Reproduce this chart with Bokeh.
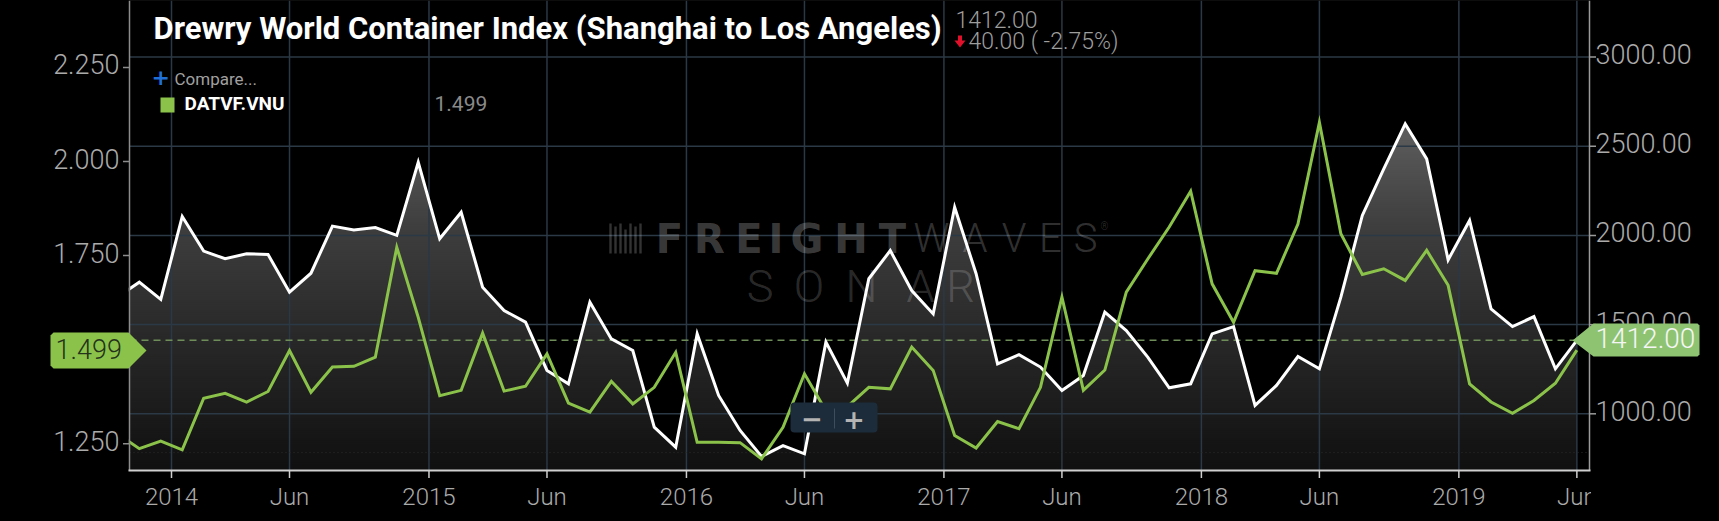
import numpy as np
import pandas as pd
from bokeh.plotting import figure
from bokeh.models import Range1d, Label, BoxAnnotation, GlobalInlineStyleSheet
from bokeh.core.properties import value
from bokeh.embed import file_html
from bokeh.resources import INLINE

# ---------------- data ----------------
months = [str(p) for p in pd.period_range("2013-10", "2019-06", freq="M")]
# Drewry WCI Shanghai -> Los Angeles (right axis, USD/FEU)
wci_sha_la = [1656, 1738, 1641,
              2106, 1912, 1869, 1897, 1893, 1682, 1788, 2052, 2031, 2044, 2000, 2410,
              1981, 2130, 1710, 1579, 1514, 1243, 1168, 1626, 1420, 1355, 925, 813,
              1448, 1103, 907, 761, 822, 776, 1402, 1172, 1757, 1915, 1691, 1560,
              2158, 1785, 1280, 1332, 1262, 1131, 1215, 1570, 1467, 1318, 1146, 1168,
              1448, 1489, 1047, 1159, 1321, 1252, 1654, 2112, 2373, 2625, 2429, 1863,
              2084, 1588, 1489, 1545, 1252, 1412]
# DATVF.VNU (left axis, USD/mile)
datvf_vnu = [1.276, 1.237, 1.257,
             1.234, 1.371, 1.384, 1.361, 1.389, 1.498, 1.387, 1.454, 1.456, 1.480, 1.772, 1.586,
             1.378, 1.392, 1.544, 1.390, 1.403, 1.489, 1.358, 1.334, 1.416, 1.356, 1.400, 1.493,
             1.254, 1.254, 1.253, 1.210, 1.294, 1.436, 1.338, 1.349, 1.400, 1.396, 1.507, 1.445,
             1.272, 1.239, 1.309, 1.290, 1.400, 1.640, 1.392, 1.446, 1.653, 1.741, 1.826, 1.921,
             1.675, 1.573, 1.710, 1.703, 1.834, 2.104, 1.808, 1.700, 1.715, 1.684, 1.764, 1.671,
             1.409, 1.361, 1.331, 1.365, 1.411, 1.499]
tick_positions = [-0.5, 5.0, 11.5, 17.0, 23.5, 29.0, 35.5, 41.0, 47.5, 53.0, 59.5, 65.0]
tick_labels = ["2014", "Jun", "2015", "Jun", "2016", "Jun", "2017", "Jun", "2018", "Jun", "2019", "Jun"]
left_ticks = [1.25, 1.5, 1.75, 2.0, 2.25]
right_ticks = [1000, 1500, 2000, 2500, 3000]
title_text = "Drewry World Container Index (Shanghai to Los Angeles)"
change_text = "40.00 ( -2.75%)"
legend_name = "DATVF.VNU"

x = [i - months.index("2014-01") for i in range(len(months))]  # month index, Jan 2014 = 0

# ---------------- geometry (canvas pixels) ----------------
W, H = 1719, 521
FL, FR, FT, FB = 129, 1589, 0, 470      # plot area inside the canvas
PXM, PX0 = 21.456, 181.73               # px per month, px of month 0


def mx(px):
    return (px - PX0) / PXM


def ly(py):
    return 2.0 - (py - 161.0) / 376.4


def ry(py):
    return 2500.0 - (py - 145.7) * 5.605


GREEN = "#8bc34a"
GRID = "#2b3845"
LABEL = "#ababab"
LIGHT = "Roboto Light"

p = figure(width=W, height=H, x_range=Range1d(mx(0), mx(W)), y_range=Range1d(ly(H), ly(0)),
           output_backend="svg", toolbar_location=None, x_axis_location=None, y_axis_location=None,
           min_border_left=0, min_border_right=0, min_border_top=0, min_border_bottom=0,
           background_fill_color="#000000", border_fill_color="#000000", outline_line_color=None)
p.extra_y_ranges = {"right": Range1d(ry(H), ry(0))}
p.grid.visible = False
p.stylesheets = [GlobalInlineStyleSheet(css="html, body { background: #000000; margin: 0; overflow: hidden; }")]

# ---------------- gradient under the white series ----------------
gy = [0, 123, 140, 223, 323, 390, 457, 470]
gv = [108, 93, 89, 63, 43, 31, 18, 15]
tops = np.arange(FT, FB, 2.0)
cols = []
for t in tops:
    g = int(round(np.interp(t + 1, gy, gv)))
    cols.append("#%02x%02x%02x" % (g, g, g))
p.quad(left=mx(FL), right=mx(FR), top=[ry(t) for t in tops],
       bottom=[ry(min(t + 2.7, FB)) for t in tops],
       fill_color=cols, line_color=None, y_range_name="right", level="image")
p.varea(x=x, y1=wci_sha_la, y2=ry(-50), fill_color="#000000", y_range_name="right", level="image")
p.quad(left=x[-1], right=mx(FR + 2), top=ry(-50), bottom=ry(FB + 1), fill_color="#000000",
       line_color=None, y_range_name="right", level="image")

# ---------------- grid lines ----------------
p.segment(x0=tick_positions, x1=tick_positions, y0=ly(FT), y1=ly(FB), line_color=GRID,
          line_width=1.5, level="underlay")
p.segment(x0=mx(FL), x1=mx(FR), y0=right_ticks, y1=right_ticks, line_color=GRID,
          line_width=1.5, y_range_name="right", level="underlay")
p.segment(x0=[mx(FL)], x1=[mx(FR)], y0=[ly(452)], y1=[ly(452)], line_color="#2a2a2a",
          line_dash="1 3", line_width=1, level="underlay")
p.segment(x0=[mx(FL)], x1=[mx(FR)], y0=[wci_sha_la[-1]], y1=[wci_sha_la[-1]],
          line_color="#6e8d58", line_dash="7 5", line_width=1.5, y_range_name="right", level="underlay")

# ---------------- watermark ----------------
def wm(chars, centers, mid, font, size, style, alpha):
    p.text(x=[mx(c) for c in centers], y=[ly(mid)] * len(chars), text=list(chars),
           text_font=value(font), text_font_size=size, text_font_style=style,
           text_color="#ffffff", text_alpha=alpha, text_align="center", text_baseline="middle")


wm("FREIGHT", [669, 709, 748.5, 775.5, 806.5, 850.5, 892], 238, "DejaVu Sans", "40px", "bold", 0.24)
wm("WAVES", [931, 974.5, 1013.5, 1050, 1085], 238, LIGHT, "40px", "normal", 0.2)
wm("®", [1104], 226, LIGHT, "10px", "normal", 0.2)
wm("SONAR", [759.5, 808.5, 861, 920, 960], 286, LIGHT, "45px", "normal", 0.18)
bar_x = [610, 615, 620, 625, 630, 635, 640]
bar_top = [223, 226, 223, 229, 223, 226, 223]
p.quad(left=[mx(b - 1.2) for b in bar_x], right=[mx(b + 1.2) for b in bar_x],
       top=[ly(t) for t in bar_top], bottom=ly(253), fill_color="#ffffff", fill_alpha=0.2,
       line_color=None)

# ---------------- series ----------------
p.line(x, wci_sha_la, line_color="#ffffff", line_width=3, line_join="miter", y_range_name="right")
p.line(x, datvf_vnu, line_color=GREEN, line_width=3, line_join="miter")
# keep the series inside the plot area
p.quad(left=mx(-20), right=mx(FL - 0.7), top=ly(-20), bottom=ly(H + 20), fill_color="#000000",
       line_color=None)

# ---------------- axes (drawn by hand) ----------------
p.segment(x0=[mx(FL)], x1=[mx(FL)], y0=[ly(FT)], y1=[ly(FB)], line_color="#8c8c8c", line_width=1.5)
p.segment(x0=[mx(FR)], x1=[mx(FR)], y0=[ly(FT)], y1=[ly(FB)], line_color="#9a9a9a", line_width=1.5)
p.segment(x0=[mx(FL - 1)], x1=[mx(FR + 1)], y0=[ly(FB)], y1=[ly(FB)], line_color="#cfcfcf", line_width=2)
p.segment(x0=mx(FL - 6.5), x1=mx(FL), y0=left_ticks, y1=left_ticks, line_color="#8c8c8c", line_width=1.5)
p.segment(x0=mx(FR), x1=mx(FR + 6.5), y0=right_ticks, y1=right_ticks, line_color="#9a9a9a",
          line_width=1.5, y_range_name="right")
p.segment(x0=tick_positions, x1=tick_positions, y0=ly(FB), y1=ly(FB + 7.5), line_color="#cfcfcf",
          line_width=1.5)
p.text(x=mx(FL - 10), y=left_ticks, text=["%.3f" % v for v in left_ticks], text_font=value(LIGHT),
       text_font_size="27px", text_color=LABEL, text_align="right", text_baseline="middle", y_offset=-3)
p.text(x=mx(FR + 6), y=right_ticks, text=["%.2f" % v for v in right_ticks], text_font=value(LIGHT),
       text_font_size="27px", text_color=LABEL, text_align="left", text_baseline="middle", y_offset=-3,
       y_range_name="right")
p.text(x=tick_positions, y=ly(496), text=tick_labels, text_font=value(LIGHT), text_font_size="24px",
       text_color=LABEL, text_align="center", text_baseline="middle")
# the last x label is cut at the plot edge, as in the reference
p.quad(left=mx(FR + 1.5), right=mx(FR + 14), top=ly(478), bottom=ly(516), fill_color="#000000",
       line_color=None)

# ---------------- price tags ----------------
lt = [(53, 332), (128, 332), (146, 350), (128, 368), (53, 368), (50, 365), (50, 335)]
p.patch(x=[mx(a) for a, b in lt], y=[ly(b) for a, b in lt], fill_color=GREEN, line_color=None)
p.text(x=[mx(55)], y=[ly(348)], text=["%.3f" % datvf_vnu[-1]], text_font=value(LIGHT),
       text_font_size="27px", text_color="#26331c", text_align="left", text_baseline="middle")
rt = [(1572, 340), (1593, 323), (1697, 323), (1699, 325), (1699, 354), (1697, 356), (1593, 356)]
p.patch(x=[mx(a) for a, b in rt], y=[ly(b) for a, b in rt], fill_color="#8ec471", line_color=None)
p.text(x=[mx(1595)], y=[ly(337)], text=["%.2f" % wci_sha_la[-1]], text_font=value(LIGHT),
       text_font_size="28px", text_color="#f5f5f5", text_align="left", text_baseline="middle")

# ---------------- header texts ----------------
def lab(px, py, text, font, size, color, style="normal", align="left"):
    p.add_layout(Label(x=mx(px), y=ly(py), text=text, text_font=font, text_font_style=style,
                       text_font_size=size, text_color=color, text_align=align,
                       text_baseline="middle"))


lab(153, 27.5, title_text, "Roboto", "31px", "#ffffff", "bold")
lab(955, 18.5, "%.2f" % wci_sha_la[-1], LIGHT, "23px", "#9e9e9e")
arrow = [(957.5, 35), (961.5, 35), (961.5, 40), (965, 40), (959.5, 47), (954, 40), (957.5, 40)]
p.patch(x=[mx(a) for a, b in arrow], y=[ly(b) for a, b in arrow], fill_color="#e0102a", line_color=None)
lab(968, 41, change_text, LIGHT, "23px", "#9e9e9e")

# legend
lab(151, 76, "+", "DejaVu Sans", "22px", "#1f6fd8", "bold")
lab(174, 78.5, "Compare...", "Roboto", "17px", "#a0a0a0")
p.add_layout(BoxAnnotation(left=mx(160), right=mx(174), top=ly(97), bottom=ly(112),
                           fill_color=GREEN, fill_alpha=1, line_color=None))
lab(184, 102.5, legend_name, "Roboto", "19px", "#ffffff", "bold")
lab(434, 102.5, "%.3f" % datvf_vnu[-1], "Roboto", "21px", "#8a8a8a")

# zoom buttons
p.add_layout(BoxAnnotation(left=mx(790), right=mx(877), top=ly(402), bottom=ly(432),
                           fill_color="#1d2c3a", fill_alpha=1, line_color=None, border_radius=4))
p.add_layout(BoxAnnotation(left=mx(833.5), right=mx(834.5), top=ly(408), bottom=ly(428),
                           fill_color="#3d4d5c", fill_alpha=1, line_color=None))
lab(811.5, 417, "\u2212", "DejaVu Sans", "26px", "#b4b4b4", "bold", "center")
lab(853.5, 418, "+", "DejaVu Sans", "26px", "#b4b4b4", "bold", "center")

open("out.html", "w").write(file_html(p, INLINE))
